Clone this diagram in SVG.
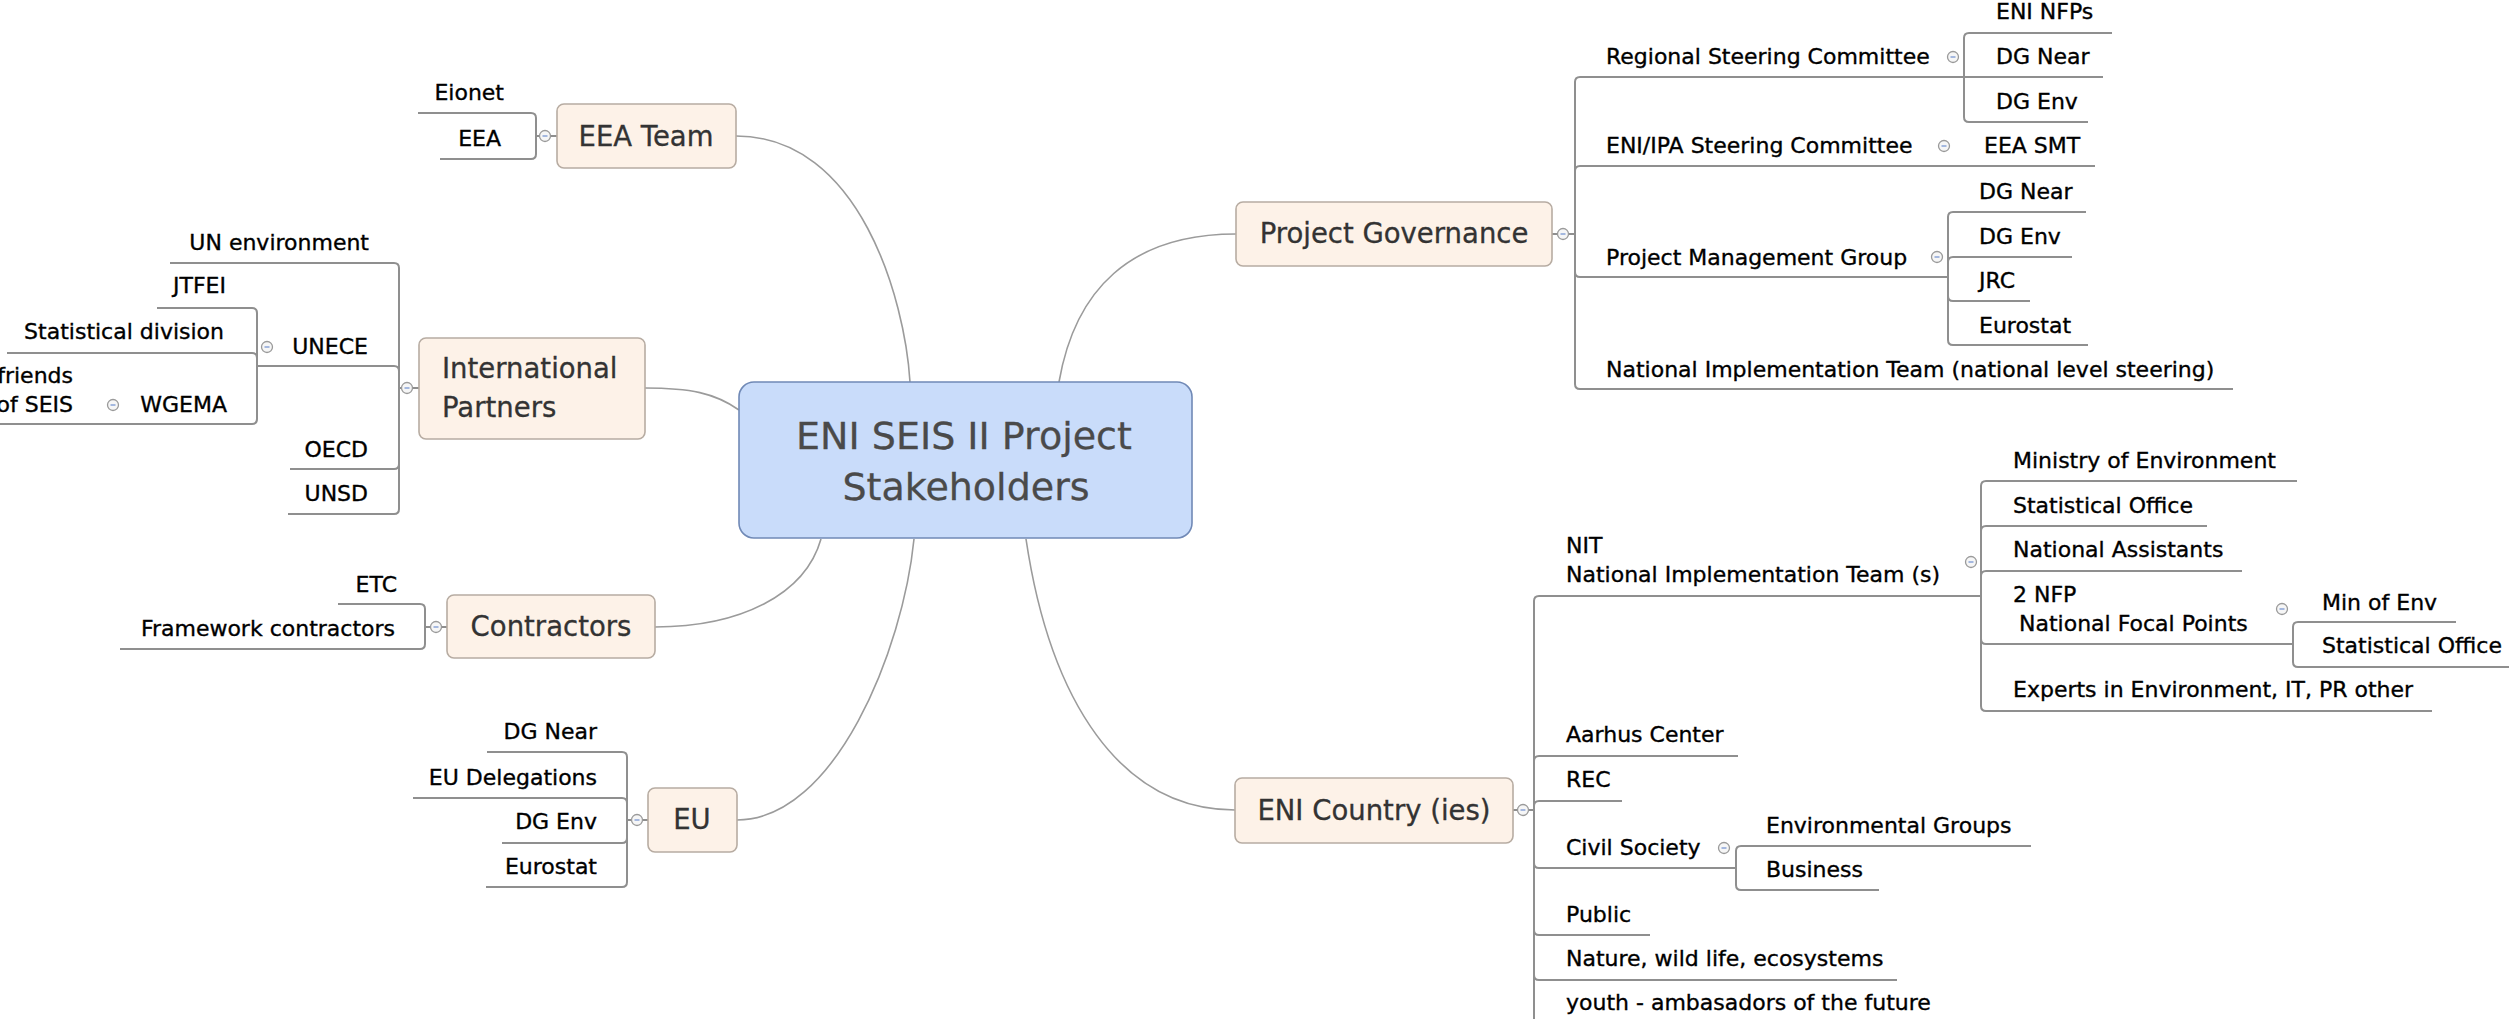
<svg xmlns="http://www.w3.org/2000/svg" width="2509" height="1019" viewBox="0 0 2509 1019">
<style>
text{font-family:"DejaVu Sans","Liberation Sans",sans-serif}
.bg{fill:#ffffff}
.mb{fill:#fdf2e8;stroke:#b7aca2;stroke-width:1.6}
.cb{fill:#c9dcfa;stroke:#7089b6;stroke-width:1.6}
.mt{font-size:27.5px;fill:#333333;stroke:#333333;stroke-width:0.3}
.ct{font-size:38px;fill:#4a4a4a;stroke:#4a4a4a;stroke-width:0.3;text-anchor:middle}
.st{font-size:22px;fill:#000000;stroke:#000000;stroke-width:0.35}
.e{text-anchor:end}
.m{text-anchor:middle}
.cv{fill:none;stroke:#9b9b9b;stroke-width:1.6}
.ln{fill:none;stroke:#8f8f8f;stroke-width:2}
.tg{fill:#f6f6f6;stroke:#9a9a9a;stroke-width:1.3}
.tm{stroke:#6f8fd0;stroke-width:1.2}
</style>
<defs>
<g id="tog"><circle class="tg" cx="0" cy="0" r="5.5"/><line class="tm" x1="-2.5" y1="0" x2="2.5" y2="0"/></g>
</defs>
<rect class="bg" x="0" y="0" width="2509" height="1019"/>
<g id="connectors">
<path class="cv" d="M736 136 C860 136 905 300 910 382"/>
<path class="cv" d="M645 388 C690 388 715 393 739 410"/>
<path class="cv" d="M655 627 C740 627 805 595 821 539"/>
<path class="cv" d="M737 820 C835 820 903 650 914 539"/>
<path class="cv" d="M1059 382 C1075 290 1130 234 1236 234"/>
<path class="cv" d="M1026 539 C1050 700 1120 810 1235 810"/>
<path class="ln" d="M557 136 H550.5 M539.5 136 H536"/>
<path class="ln" d="M536 136 V118 Q536 113 531 113 H418"/>
<path class="ln" d="M536 136 V154 Q536 159 531 159 H440"/>
<path class="ln" d="M419 388 H412.5 M401.5 388 H399"/>
<path class="ln" d="M399 388 V268 Q399 263 394 263 H170"/>
<path class="ln" d="M399 388 V371 Q399 366 394 366 H257"/>
<path class="ln" d="M399 388 V464 Q399 469 394 469 H290"/>
<path class="ln" d="M399 388 V509 Q399 514 394 514 H288"/>
<path class="ln" d="M257 366 V313 Q257 308 252 308 H157"/>
<path class="ln" d="M257 366 V358 Q257 353 252 353 H7"/>
<path class="ln" d="M257 366 V419 Q257 424 252 424 H-5"/>
<path class="ln" d="M447 627 H441.5 M430.5 627 H425"/>
<path class="ln" d="M425 627 V609 Q425 604 420 604 H338"/>
<path class="ln" d="M425 627 V644 Q425 649 420 649 H120"/>
<path class="ln" d="M648 820 H642.5 M631.5 820 H627"/>
<path class="ln" d="M627 820 V757 Q627 752 622 752 H487"/>
<path class="ln" d="M627 820 V803 Q627 798 622 798 H413"/>
<path class="ln" d="M627 820 V838 Q627 843 622 843 H502"/>
<path class="ln" d="M627 820 V882 Q627 887 622 887 H486"/>
<path class="ln" d="M1552 234 H1557.5 M1568.5 234 H1575"/>
<path class="ln" d="M1575 234 V82 Q1575 77 1580 77 H1964"/>
<path class="ln" d="M1575 234 V171 Q1575 166 1580 166 H2095"/>
<path class="ln" d="M1575 234 V272 Q1575 277 1580 277 H1948"/>
<path class="ln" d="M1575 234 V384 Q1575 389 1580 389 H2233"/>
<path class="ln" d="M1964 77 V38 Q1964 33 1969 33 H2112"/>
<path class="ln" d="M1964 77 H2103"/>
<path class="ln" d="M1964 77 V117 Q1964 122 1969 122 H2088"/>
<path class="ln" d="M1948 277 V217 Q1948 212 1953 212 H2086"/>
<path class="ln" d="M1948 277 V262 Q1948 257 1953 257 H2072"/>
<path class="ln" d="M1948 277 V296 Q1948 301 1953 301 H2030"/>
<path class="ln" d="M1948 277 V340 Q1948 345 1953 345 H2088"/>
<path class="ln" d="M1513 810 H1517.5 M1528.5 810 H1534"/>
<path class="ln" d="M1534 810 V601 Q1534 596 1539 596 H1981"/>
<path class="ln" d="M1534 810 V761 Q1534 756 1539 756 H1738"/>
<path class="ln" d="M1534 810 V806 Q1534 801 1539 801 H1622"/>
<path class="ln" d="M1534 810 V863 Q1534 868 1539 868 H1736"/>
<path class="ln" d="M1534 810 V930 Q1534 935 1539 935 H1650"/>
<path class="ln" d="M1534 810 V975 Q1534 980 1539 980 H1897"/>
<path class="ln" d="M1534 810 V1020 Q1534 1025 1539 1025 H1950"/>
<path class="ln" d="M1981 596 V486 Q1981 481 1986 481 H2297"/>
<path class="ln" d="M1981 596 V531 Q1981 526 1986 526 H2207"/>
<path class="ln" d="M1981 596 V576 Q1981 571 1986 571 H2242"/>
<path class="ln" d="M1981 596 V639 Q1981 644 1986 644 H2293"/>
<path class="ln" d="M1981 596 V706 Q1981 711 1986 711 H2432"/>
<path class="ln" d="M2293 644 V627 Q2293 622 2298 622 H2456"/>
<path class="ln" d="M2293 644 V662 Q2293 667 2298 667 H2512"/>
<path class="ln" d="M1736 868 V851 Q1736 846 1741 846 H2031"/>
<path class="ln" d="M1736 868 V885 Q1736 890 1741 890 H1879"/>
</g>
<g id="center">
<rect class="cb" x="739" y="382" width="453" height="156" rx="15"/>
<text class="ct" x="964" y="449">ENI SEIS II Project</text>
<text class="ct" x="966" y="500">Stakeholders</text>
</g>
<g id="eea-team">
<rect class="mb" x="557" y="104" width="179" height="64" rx="7"/>
<text class="mt m" x="646" y="146">EEA Team</text>
<use href="#tog" x="545" y="136"/>
</g>
<g id="eionet"><text class="st e" x="504" y="100">Eionet</text></g>
<g id="eea"><text class="st e" x="501" y="146">EEA</text></g>
<g id="international-partners">
<rect class="mb" x="419" y="338" width="226" height="101" rx="7"/>
<text class="mt" x="442" y="378">International</text>
<text class="mt" x="442" y="417">Partners</text>
<use href="#tog" x="407" y="388"/>
</g>
<g id="un-environment"><text class="st e" x="369" y="250">UN environment</text></g>
<g id="unece"><text class="st e" x="368" y="354">UNECE</text><use href="#tog" x="267" y="347"/></g>
<g id="jtfei"><text class="st e" x="226" y="293">JTFEI</text></g>
<g id="statistical-division"><text class="st e" x="224" y="339">Statistical division</text></g>
<g id="wgema"><text class="st e" x="227" y="412">WGEMA</text><use href="#tog" x="113" y="405"/></g>
<g id="friends-of-seis"><text class="st e" x="73" y="383">friends</text><text class="st e" x="73" y="412">of SEIS</text></g>
<g id="oecd"><text class="st e" x="368" y="457">OECD</text></g>
<g id="unsd"><text class="st e" x="368" y="501">UNSD</text></g>
<g id="contractors">
<rect class="mb" x="447" y="595" width="208" height="63" rx="7"/>
<text class="mt m" x="551" y="636">Contractors</text>
<use href="#tog" x="436" y="627"/>
</g>
<g id="etc"><text class="st e" x="397" y="592">ETC</text></g>
<g id="framework-contractors"><text class="st e" x="395" y="636">Framework contractors</text></g>
<g id="eu">
<rect class="mb" x="648" y="788" width="89" height="64" rx="7"/>
<text class="mt m" x="692" y="829">EU</text>
<use href="#tog" x="637" y="820"/>
</g>
<g id="eu-dg-near"><text class="st e" x="597" y="739">DG Near</text></g>
<g id="eu-delegations"><text class="st e" x="597" y="785">EU Delegations</text></g>
<g id="eu-dg-env"><text class="st e" x="597" y="829">DG Env</text></g>
<g id="eu-eurostat"><text class="st e" x="597" y="874">Eurostat</text></g>
<g id="project-governance">
<rect class="mb" x="1236" y="202" width="316" height="64" rx="7"/>
<text class="mt m" x="1394" y="243">Project Governance</text>
<use href="#tog" x="1563" y="234"/>
</g>
<g id="regional-steering-committee"><text class="st" x="1606" y="64">Regional Steering Committee</text><use href="#tog" x="1953" y="57"/></g>
<g id="rsc-eni-nfps"><text class="st" x="1996" y="19">ENI NFPs</text></g>
<g id="rsc-dg-near"><text class="st" x="1996" y="64">DG Near</text></g>
<g id="rsc-dg-env"><text class="st" x="1996" y="109">DG Env</text></g>
<g id="eni-ipa-steering-committee"><text class="st" x="1606" y="153">ENI/IPA Steering Committee</text><use href="#tog" x="1944" y="146"/></g>
<g id="eea-smt"><text class="st" x="1984" y="153">EEA SMT</text></g>
<g id="project-management-group"><text class="st" x="1606" y="265">Project Management Group</text><use href="#tog" x="1937" y="257"/></g>
<g id="pmg-dg-near"><text class="st" x="1979" y="199">DG Near</text></g>
<g id="pmg-dg-env"><text class="st" x="1979" y="244">DG Env</text></g>
<g id="pmg-jrc"><text class="st" x="1979" y="288">JRC</text></g>
<g id="pmg-eurostat"><text class="st" x="1979" y="333">Eurostat</text></g>
<g id="national-implementation-team-steering"><text class="st" x="1606" y="377">National Implementation Team (national level steering)</text></g>
<g id="eni-country">
<rect class="mb" x="1235" y="778" width="278" height="65" rx="7"/>
<text class="mt m" x="1374" y="820">ENI Country (ies)</text>
<use href="#tog" x="1523" y="810"/>
</g>
<g id="nit"><text class="st" x="1566" y="553">NIT</text><text class="st" x="1566" y="582">National Implementation Team (s)</text><use href="#tog" x="1971" y="562"/></g>
<g id="ministry-of-environment"><text class="st" x="2013" y="468">Ministry of Environment</text></g>
<g id="nit-statistical-office"><text class="st" x="2013" y="513">Statistical Office</text></g>
<g id="national-assistants"><text class="st" x="2013" y="557">National Assistants</text></g>
<g id="nfp"><text class="st" x="2013" y="602">2 NFP</text><text class="st" x="2019" y="631">National Focal Points</text><use href="#tog" x="2282" y="609"/></g>
<g id="min-of-env"><text class="st" x="2322" y="610">Min of Env</text></g>
<g id="nfp-statistical-office"><text class="st" x="2322" y="653">Statistical Office</text></g>
<g id="experts"><text class="st" x="2013" y="697">Experts in Environment, IT, PR other</text></g>
<g id="aarhus-center"><text class="st" x="1566" y="742">Aarhus Center</text></g>
<g id="rec"><text class="st" x="1566" y="787">REC</text></g>
<g id="civil-society"><text class="st" x="1566" y="855">Civil Society</text><use href="#tog" x="1724" y="848"/></g>
<g id="environmental-groups"><text class="st" x="1766" y="833">Environmental Groups</text></g>
<g id="business"><text class="st" x="1766" y="877">Business</text></g>
<g id="public"><text class="st" x="1566" y="922">Public</text></g>
<g id="nature"><text class="st" x="1566" y="966">Nature, wild life, ecosystems</text></g>
<g id="youth"><text class="st" x="1566" y="1010">youth - ambasadors of the future</text></g>
</svg>
